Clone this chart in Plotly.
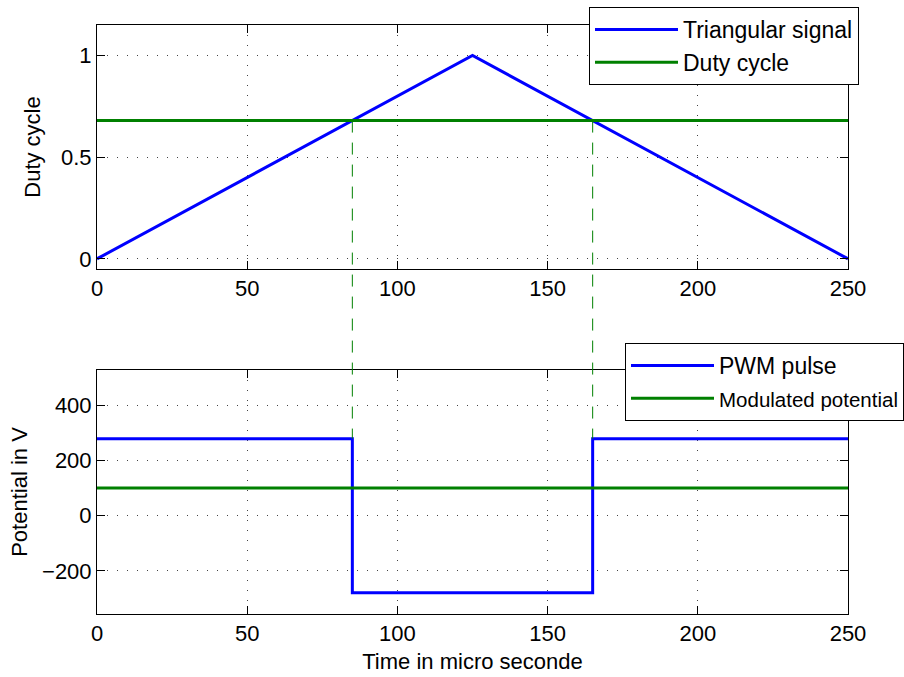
import plotly.graph_objects as go

# ---- data ----
tri_t = [0, 125, 250]
tri_v = [0, 1, 0]
duty_t = [0, 250]
duty_v = [0.68, 0.68]
pwm_t = [0, 85, 85, 165, 165, 250]
pwm_v = [280, 280, -280, -280, 280, 280]
mod_t = [0, 250]
mod_v = [100.8, 100.8]
cross_t = [85, 165]
x_ticks = [0, 50, 100, 150, 200, 250]
y1_ticks = [0, 0.5, 1]
y2_ticks = [-200, 0, 200, 400]

W, H = 904, 677
BLUE = "#0000ff"
GREEN = "#008000"
FONT = "Liberation Sans, Arial, sans-serif"

xdom = [97 / W, 848 / W]
y1dom = [1 - 269 / H, 1 - 25 / H]
y2dom = [1 - 614 / H, 1 - 370 / H]
y1rng = [-0.05, 1.15]
y2rng = [-357, 530]

fig = go.Figure()
fig.add_trace(go.Scatter(x=tri_t, y=tri_v, mode="lines", name="Triangular signal",
                         line=dict(color=BLUE, width=3), xaxis="x", yaxis="y", legend="legend"))
fig.add_trace(go.Scatter(x=duty_t, y=duty_v, mode="lines", name="Duty cycle",
                         line=dict(color=GREEN, width=3), xaxis="x", yaxis="y", legend="legend"))
fig.add_trace(go.Scatter(x=pwm_t, y=pwm_v, mode="lines", name="PWM pulse",
                         line=dict(color=BLUE, width=3), xaxis="x2", yaxis="y2", legend="legend2"))
fig.add_trace(go.Scatter(x=mod_t, y=mod_v, mode="lines",
                         name="<span style='font-size:20.5px'>Modulated potential</span>",
                         line=dict(color=GREEN, width=3), xaxis="x2", yaxis="y2", legend="legend2"))


def to_paper(v, rng, dom):
    return dom[0] + (v - rng[0]) / (rng[1] - rng[0]) * (dom[1] - dom[0])


shapes = []
for tc in cross_t:
    shapes.append(dict(type="line", xref="x", yref="paper", x0=tc, x1=tc,
                       y0=to_paper(duty_v[0], y1rng, y1dom),
                       y1=to_paper(pwm_v[0], y2rng, y2dom),
                       line=dict(color=GREEN, width=1, dash="12px,10px"), layer="above"))

axis_common = dict(
    showline=True, linecolor="black", linewidth=1, mirror="ticks",
    ticks="inside", ticklen=8, tickcolor="black", tickwidth=1,
    showgrid=True, gridcolor="#444", gridwidth=1, griddash="1px,9px",
    zeroline=False, automargin=False,
    tickfont=dict(size=22, color="black", family=FONT),
)

fig.update_layout(
    width=W, height=H,
    margin=dict(l=0, r=0, t=0, b=0, autoexpand=False),
    paper_bgcolor="white", plot_bgcolor="white",
    font=dict(family=FONT, color="black", size=22),
    shapes=shapes,
    xaxis=dict(domain=xdom, anchor="y", range=[0, 250], tickvals=x_ticks, **axis_common),
    yaxis=dict(domain=y1dom, anchor="x", range=y1rng, tickvals=y1_ticks,
               ticktext=["0", "0.5", "1"],
               title=dict(text="Duty cycle", font=dict(size=22), standoff=14), **axis_common),
    xaxis2=dict(domain=xdom, anchor="y2", range=[0, 250], tickvals=x_ticks,
                title=dict(text="Time in micro seconde", font=dict(size=22), standoff=8),
                **axis_common),
    yaxis2=dict(domain=y2dom, anchor="x2", range=y2rng, tickvals=y2_ticks,
                title=dict(text="Potential in V", font=dict(size=22), standoff=8), **axis_common),
    legend=dict(x=859 / W, y=1 - 7 / H, xanchor="right", yanchor="top",
                bgcolor="white", bordercolor="black", borderwidth=1,
                font=dict(size=23, family=FONT), itemwidth=83),
    legend2=dict(x=1.0, y=1 - 343 / H, xanchor="right", yanchor="top",
                 bgcolor="white", bordercolor="black", borderwidth=1,
                 font=dict(size=23, family=FONT), itemwidth=83),
    showlegend=True,
)

fig.write_html("out.html")
